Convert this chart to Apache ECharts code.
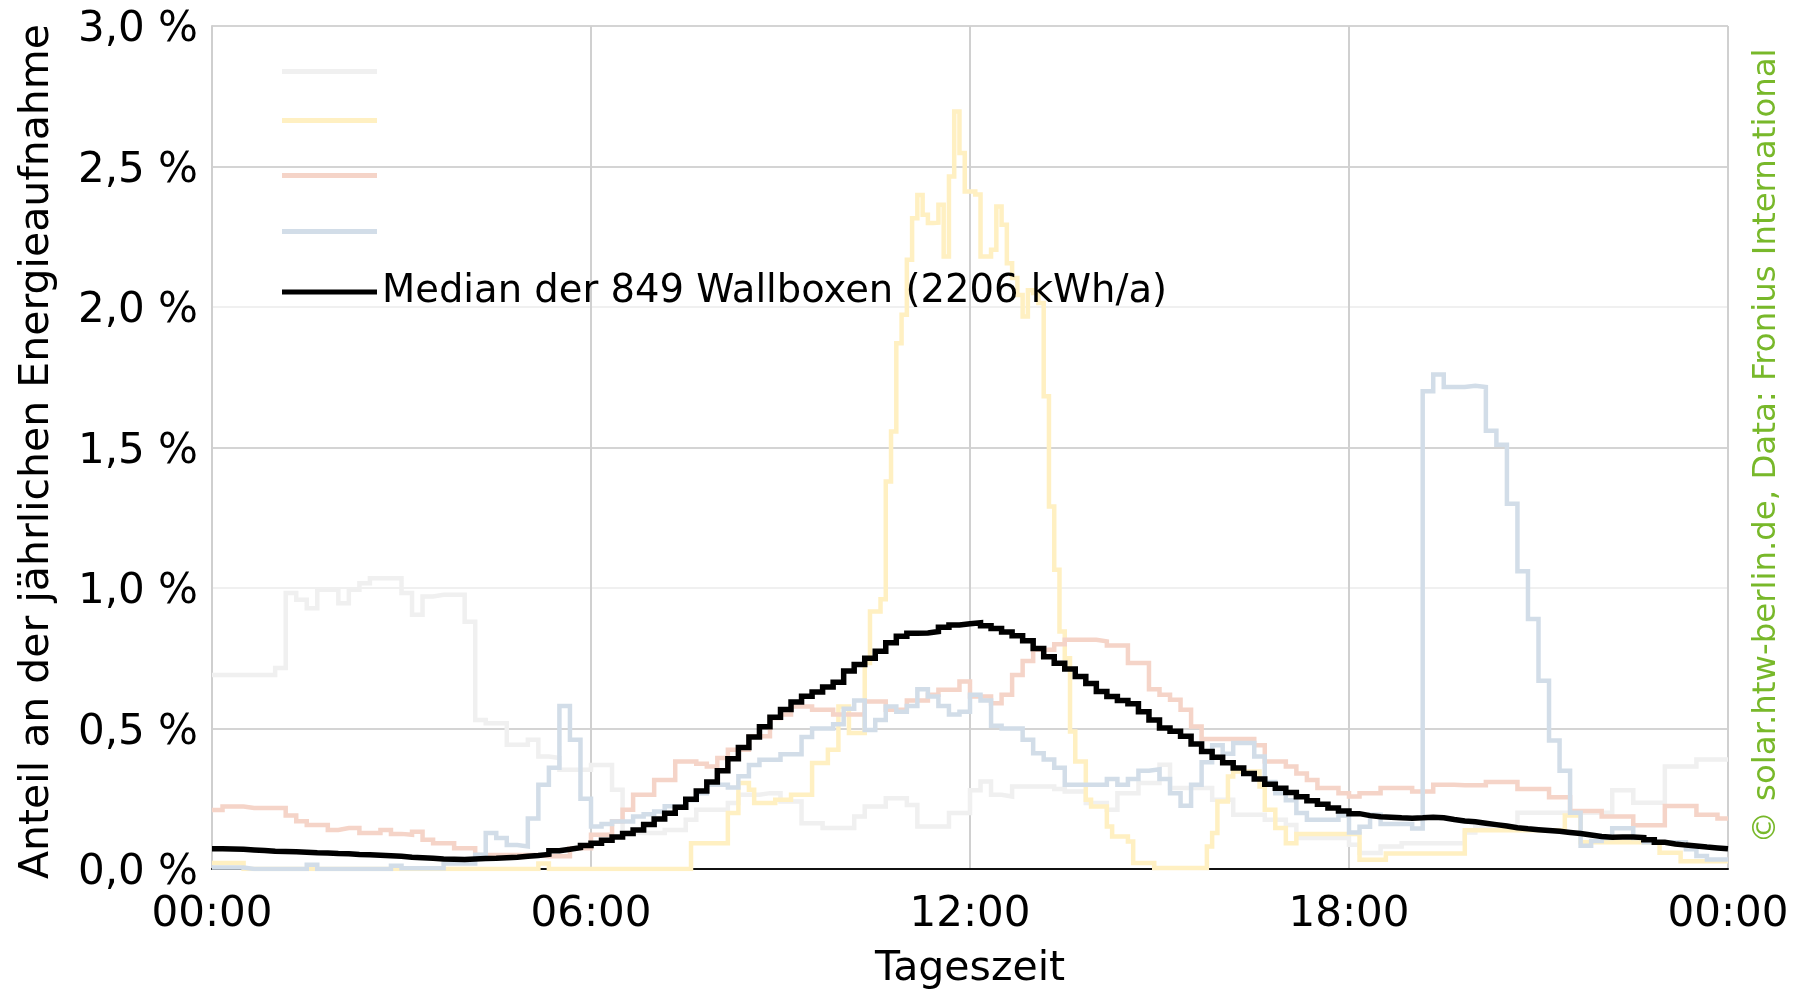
<!DOCTYPE html>
<html>
<head>
<meta charset="utf-8">
<script src="https://cdn.jsdelivr.net/npm/echarts@6/dist/echarts.min.js"></script>
<style>
  html, body { margin: 0; padding: 0; background: #ffffff; }
  #chart { width: 1798px; height: 990px; }
</style>
</head>
<body>
<div id="chart"></div>
<script>
// Daily load profiles of wallboxes: share of yearly energy per time slot (in %).

const xTickHours = [0, 6, 12, 18, 24];
const xTickLabels = ['00:00', '06:00', '12:00', '18:00', '00:00'];
const yTickLabels = ['0,0 %', '0,5 %', '1,0 %', '1,5 %', '2,0 %', '2,5 %', '3,0 %'];

const medianLabel = 'Median der 849 Wallboxen (2206 kWh/a)';
const sourceText = '\u00a9 solar.htw-berlin.de, Data: Fronius International';

// Wallbox 1 (light grey), 10-minute slots
const greyStepMin = 10;
const greyValues = [
  0.69, 0.69, 0.69, 0.69, 0.69, 0.69, 0.715, 0.982, 0.958, 0.928, 0.994, 0.994,
  0.946, 0.994, 1.017, 1.035, 1.035, 1.035, 0.982, 0.905, 0.97, 0.976, 0.976, 0.976,
  0.88, 0.53, 0.519, 0.519, 0.442, 0.442, 0.46, 0.40, 0.395, 0.353, 0.353, 0.353,
  0.37, 0.37, 0.282, 0.13, 0.128, 0.128, 0.128, 0.139, 0.139, 0.175, 0.211, 0.211,
  0.211, 0.235, 0.264, 0.264, 0.27, 0.27, 0.24, 0.24, 0.163, 0.163, 0.146, 0.146,
  0.146, 0.187, 0.222, 0.222, 0.252, 0.252, 0.228, 0.151, 0.151, 0.151, 0.199, 0.199,
  0.28, 0.311, 0.264, 0.258, 0.294, 0.294, 0.294, 0.294, 0.285, 0.276, 0.276, 0.235,
  0.235, 0.211, 0.27, 0.27, 0.306, 0.306, 0.371, 0.288, 0.288, 0.288, 0.288, 0.246,
  0.246, 0.193, 0.193, 0.193, 0.175, 0.175, 0.157, 0.11, 0.11, 0.11, 0.11, 0.11,
  0.086, 0.057, 0.057, 0.08, 0.08, 0.092, 0.092, 0.092, 0.092, 0.092, 0.092, 0.13,
  0.15, 0.15, 0.15, 0.15, 0.2, 0.2, 0.2, 0.2, 0.2, 0.2, 0.2, 0.2,
  0.2, 0.28, 0.28, 0.236, 0.236, 0.236, 0.365, 0.365, 0.365, 0.39, 0.39, 0.39
];

// Wallbox 2 (yellow), 5-minute slots
const yellowStepMin = 5;
const yellowValues = [
  0.021, 0.021, 0.021, 0.021, 0.021, 0.021, 0, 0, 0, 0, 0, 0,
  0, 0, 0, 0, 0, 0, 0, 0, 0, 0, 0, 0,
  0, 0, 0, 0, 0, 0, 0, 0, 0, 0, 0, 0,
  0, 0, 0, 0, 0, 0, 0, 0, 0, 0, 0, 0,
  0, 0, 0, 0, 0, 0, 0, 0, 0, 0, 0, 0,
  0, 0, 0.02, 0.02, 0, 0, 0, 0, 0, 0, 0, 0,
  0, 0, 0, 0, 0, 0, 0, 0, 0, 0, 0, 0,
  0, 0, 0, 0, 0, 0, 0, 0.092, 0.092, 0.092, 0.092, 0.092,
  0.092, 0.092, 0.199, 0.199, 0.306, 0.306, 0.282, 0.235, 0.235, 0.235, 0.235, 0.246,
  0.246, 0.246, 0.264, 0.264, 0.264, 0.264, 0.377, 0.377, 0.377, 0.424, 0.424, 0.578,
  0.578, 0.484, 0.484, 0.484, 0.733, 0.916, 0.916, 0.96, 1.379, 1.557, 1.871, 1.972,
  2.168, 2.316, 2.399, 2.328, 2.299, 2.30, 2.364, 2.18, 2.464, 2.696, 2.548, 2.411,
  2.411, 2.40, 2.18, 2.18, 2.204, 2.358, 2.293, 2.156, 2.103, 2.043, 1.966, 2.06,
  2.05, 2.014, 1.682, 1.29, 1.065, 0.845, 0.75, 0.489, 0.383, 0.383, 0.246, 0.222,
  0.222, 0.222, 0.151, 0.116, 0.116, 0.116, 0.098, 0.021, 0.021, 0.021, 0.021, 0.004,
  0.004, 0.004, 0.004, 0.004, 0.004, 0.004, 0.004, 0.004, 0.004, 0.08, 0.128, 0.24,
  0.24, 0.329, 0.347, 0.347, 0.347, 0.347, 0.347, 0.294, 0.211, 0.211, 0.146, 0.146,
  0.092, 0.092, 0.125, 0.125, 0.125, 0.125, 0.125, 0.125, 0.125, 0.125, 0.125, 0.125,
  0.125, 0.125, 0.033, 0.033, 0.033, 0.033, 0.033, 0.055, 0.055, 0.055, 0.055, 0.055,
  0.055, 0.055, 0.055, 0.055, 0.055, 0.055, 0.055, 0.055, 0.055, 0.055, 0.138, 0.138,
  0.138, 0.138, 0.138, 0.138, 0.138, 0.138, 0.138, 0.138, 0.138, 0.138, 0.138, 0.138,
  0.138, 0.138, 0.138, 0.138, 0.138, 0.19, 0.19, 0.19, 0.095, 0.095, 0.095, 0.095,
  0.095, 0.095, 0.095, 0.095, 0.095, 0.095, 0.095, 0.095, 0.095, 0.095, 0.095, 0.058,
  0.058, 0.058, 0.058, 0.028, 0.028, 0.028, 0.028, 0.028, 0.028, 0.028, 0.028, 0.028
];

// Wallbox 3 (salmon), 10-minute slots
const redStepMin = 10;
const redValues = [
  0.21, 0.222, 0.222, 0.217, 0.217, 0.217, 0.217, 0.19, 0.17, 0.157, 0.157, 0.139,
  0.146, 0.146, 0.128, 0.128, 0.139, 0.125, 0.122, 0.133, 0.104, 0.092, 0.092, 0.074,
  0.074, 0.05, 0.05, 0.05, 0.05, 0.05, 0.05, 0.045, 0.045, 0.045, 0.074, 0.074,
  0.122, 0.122, 0.17, 0.211, 0.264, 0.264, 0.317, 0.317, 0.383, 0.383, 0.375, 0.365,
  0.395, 0.424, 0.424, 0.472, 0.472, 0.537, 0.55, 0.578, 0.578, 0.567, 0.567, 0.55,
  0.55, 0.55, 0.596, 0.596, 0.567, 0.567, 0.60, 0.60, 0.62, 0.638, 0.638, 0.667,
  0.614, 0.614, 0.59, 0.62, 0.69, 0.74, 0.78, 0.78, 0.80, 0.816, 0.816, 0.816,
  0.81, 0.795, 0.795, 0.733, 0.733, 0.64, 0.62, 0.602, 0.567, 0.507, 0.463, 0.463,
  0.463, 0.463, 0.463, 0.44, 0.383, 0.383, 0.365, 0.34, 0.317, 0.288, 0.288, 0.27,
  0.258, 0.27, 0.27, 0.288, 0.288, 0.288, 0.276, 0.276, 0.30, 0.30, 0.298, 0.298,
  0.298, 0.31, 0.31, 0.31, 0.285, 0.285, 0.285, 0.255, 0.255, 0.206, 0.206, 0.206,
  0.187, 0.187, 0.187, 0.156, 0.156, 0.156, 0.224, 0.224, 0.224, 0.193, 0.193, 0.18
];

// Wallbox 4 (blue-grey), 10-minute slots
const blueStepMin = 10;
const blueValues = [
  0.005, 0.005, 0.005, 0, 0, 0, 0, 0, 0, 0.015, 0, 0,
  0, 0, 0, 0, 0, 0.012, 0.003, 0.003, 0.003, 0.003, 0.02, 0.02,
  0.02, 0.051, 0.128, 0.11, 0.085, 0.08, 0.18, 0.30, 0.36, 0.58, 0.46, 0.25,
  0.151, 0.16, 0.169, 0.169, 0.187, 0.195, 0.205, 0.223, 0.223, 0.245, 0.27, 0.30,
  0.30, 0.29, 0.33, 0.37, 0.389, 0.389, 0.408, 0.408, 0.47, 0.50, 0.50, 0.515,
  0.57, 0.60, 0.495, 0.53, 0.578, 0.56, 0.58, 0.64, 0.614, 0.58, 0.55, 0.56,
  0.62, 0.60, 0.51, 0.50, 0.50, 0.46, 0.412, 0.39, 0.36, 0.30, 0.30, 0.30,
  0.30, 0.32, 0.30, 0.32, 0.35, 0.355, 0.32, 0.27, 0.225, 0.30, 0.38, 0.44,
  0.41, 0.448, 0.448, 0.40, 0.31, 0.27, 0.245, 0.199, 0.175, 0.175, 0.175, 0.19,
  0.13, 0.15, 0.193, 0.16, 0.16, 0.16, 0.144, 1.70, 1.76, 1.715, 1.715, 1.72,
  1.715, 1.56, 1.51, 1.30, 1.06, 0.89, 0.67, 0.457, 0.35, 0.20, 0.083, 0.10,
  0.11, 0.145, 0.145, 0.11, 0.095, 0.095, 0.095, 0.095, 0.07, 0.046, 0.034, 0.034
];

// Median of all wallboxes (black), 10-minute slots
const medianStepMin = 10;
const medianValues = [
  0.072, 0.071, 0.070, 0.068, 0.066, 0.063, 0.062, 0.061, 0.060, 0.058, 0.057, 0.055,
  0.054, 0.052, 0.051, 0.049, 0.047, 0.045, 0.042, 0.040, 0.038, 0.036, 0.035, 0.034,
  0.036, 0.037, 0.038, 0.040, 0.042, 0.045, 0.048, 0.052, 0.065, 0.070, 0.076, 0.084,
  0.092, 0.102, 0.114, 0.126, 0.139, 0.158, 0.178, 0.198, 0.220, 0.248, 0.278, 0.310,
  0.350, 0.392, 0.432, 0.470, 0.506, 0.540, 0.568, 0.594, 0.615, 0.630, 0.648, 0.665,
  0.705, 0.728, 0.750, 0.775, 0.805, 0.828, 0.839, 0.840, 0.845, 0.860, 0.868, 0.873,
  0.876, 0.866, 0.856, 0.843, 0.830, 0.812, 0.785, 0.755, 0.732, 0.712, 0.685, 0.660,
  0.632, 0.614, 0.600, 0.588, 0.560, 0.530, 0.502, 0.490, 0.472, 0.445, 0.418, 0.398,
  0.378, 0.359, 0.340, 0.320, 0.302, 0.287, 0.272, 0.257, 0.243, 0.230, 0.217, 0.206,
  0.197, 0.190, 0.186, 0.184, 0.182, 0.181, 0.182, 0.184, 0.182, 0.176, 0.171, 0.168,
  0.163, 0.158, 0.153, 0.147, 0.143, 0.140, 0.137, 0.134, 0.130, 0.126, 0.121, 0.116,
  0.113, 0.114, 0.114, 0.112, 0.104, 0.095, 0.089, 0.085, 0.082, 0.078, 0.075, 0.072
];

const FONT = '"DejaVu Sans", Verdana, sans-serif';

// Turn slot values into [hour, value] pairs; the last slot is closed at 24:00.
function toSteps(values, stepMin) {
  const pts = values.map((v, i) => [i * stepMin / 60, v]);
  pts.push([24, values[values.length - 1]]);
  return pts;
}

const profiles = [
  { name: 'Wallbox 1', values: greyValues, step: greyStepMin, color: '#f0f0f0', width: 4.5, label: '', legendTop: 69 },
  { name: 'Wallbox 2', values: yellowValues, step: yellowStepMin, color: '#fff0c2', width: 4.5, label: '', legendTop: 118 },
  { name: 'Wallbox 3', values: redValues, step: redStepMin, color: '#f5d4c8', width: 4.5, label: '', legendTop: 173 },
  { name: 'Wallbox 4', values: blueValues, step: blueStepMin, color: '#d2dde8', width: 4.5, label: '', legendTop: 229 },
  { name: 'Median', values: medianValues, step: medianStepMin, color: '#000000', width: 5.5, label: medianLabel, legendTop: 271 }
];

const chart = echarts.init(document.getElementById('chart'), null, { renderer: 'canvas' });

const option = {
  animation: false,
  backgroundColor: '#ffffff',
  textStyle: { fontFamily: FONT },
  grid: { left: 212, right: 70, top: 26, bottom: 121, containLabel: false, outerBoundsMode: 'none' },
  legend: profiles.map(p => ({
    data: [p.name],
    left: 282,
    top: p.legendTop,
    padding: 0,
    icon: 'rect',
    itemWidth: 95,
    itemHeight: 5,
    itemGap: 0,
    selectedMode: false,
    formatter: () => p.label,
    textStyle: { fontSize: 38.5, color: '#000000', fontFamily: FONT, lineHeight: 42 }
  })),
  xAxis: {
    type: 'value',
    min: 0,
    max: 24,
    interval: 6,
    name: 'Tageszeit',
    nameLocation: 'middle',
    nameGap: 80,
    nameTextStyle: { fontSize: 41, color: '#000000', fontFamily: FONT },
    axisLine: { show: true, lineStyle: { color: '#111111', width: 2 } },
    axisTick: { show: false },
    axisLabel: {
      fontSize: 42, color: '#000000', fontFamily: FONT, margin: 25,
      formatter: v => xTickLabels[xTickHours.indexOf(v)]
    },
    splitLine: { show: true, lineStyle: { color: '#d0d0d0', width: 2 } }
  },
  yAxis: {
    type: 'value',
    min: 0,
    max: 3,
    interval: 0.5,
    name: 'Anteil an der jährlichen Energieaufnahme',
    nameLocation: 'middle',
    nameGap: 154,
    nameRotate: 90,
    nameTextStyle: { fontSize: 41, color: '#000000', fontFamily: FONT, padding: [0, 8, 0, 0] },
    axisLine: { show: true, lineStyle: { color: '#cfcfcf', width: 2 } },
    axisTick: { show: false },
    axisLabel: {
      fontSize: 42, color: '#000000', fontFamily: FONT, margin: 14,
      formatter: v => '{t|' + yTickLabels[Math.round(v / 0.5)] + '}',
      rich: {
        t: { fontSize: 42, color: '#000000', fontFamily: FONT, padding: [9, 0, 0, 0] }
      }
    },
    splitLine: {
      show: true,
      lineStyle: {
        color: ['#d4d4d4', '#d4d4d4', '#f0f0f0', '#d4d4d4', '#f0f0f0', '#d4d4d4', '#d4d4d4'],
        width: 2
      }
    }
  },
  graphic: [{
    type: 'text',
    x: 1767,
    y: 446,
    rotation: Math.PI / 2,
    style: {
      text: sourceText,
      fontSize: 32.4,
      fontFamily: FONT,
      fill: '#78b82a',
      textAlign: 'center',
      textVerticalAlign: 'middle'
    }
  }],
  series: profiles.map(p => ({
    name: p.name,
    type: 'line',
    step: 'end',
    showSymbol: false,
    symbol: 'none',
    color: p.color,
    lineStyle: { color: p.color, width: p.width, cap: 'butt', join: 'miter' },
    emphasis: { disabled: true },
    data: toSteps(p.values, p.step)
  }))
};

chart.setOption(option);
</script>
</body>
</html>
